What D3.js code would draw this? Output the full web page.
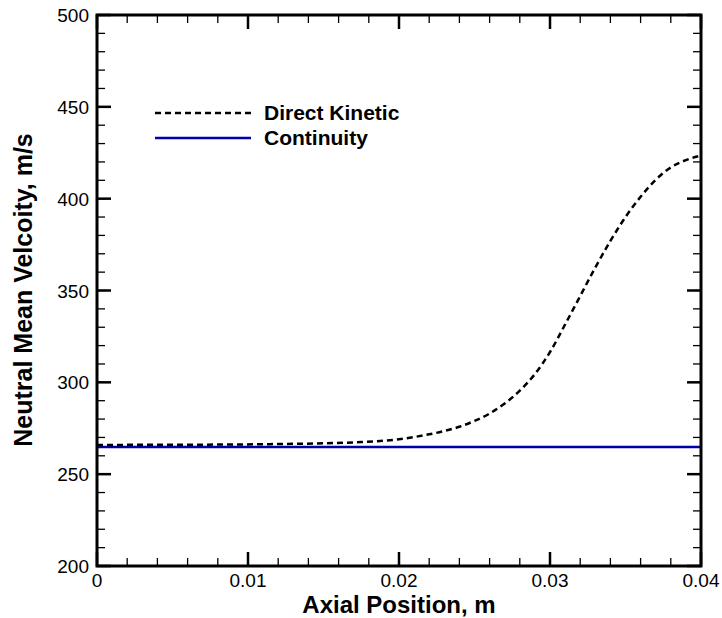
<!DOCTYPE html>
<html>
<head>
<meta charset="utf-8" />
<title>Neutral Mean Velocity</title>
<style>
  body { margin: 0; background: #fff; }
  text { font-family: Arial, "Liberation Sans", sans-serif; }
</style>
</head>
<body>
<svg id="chart" width="722" height="618"></svg>
<script src="https://d3js.org/d3.v7.min.js"></script>
<script>

// axial position (m) and velocity (m/s)
var kineticX = [0, 0.004, 0.008, 0.012, 0.015, 0.0175, 0.020, 0.021, 0.022, 0.023, 0.024, 0.025, 0.026, 0.027, 0.028, 0.029, 0.030, 0.031, 0.032, 0.033, 0.034, 0.035, 0.036, 0.037, 0.038, 0.039, 0.040];
var kineticY = [265.9, 266.0, 266.1, 266.4, 266.8, 267.5, 269.0, 270.2, 271.7, 273.5, 275.8, 279.0, 283.0, 288.5, 295.5, 304.5, 316.5, 331.5, 347.0, 362.5, 377.0, 390.0, 401.0, 410.3, 417.0, 421.0, 423.5];
var continuityX = [0, 0.04];
var continuityY = [264.8, 264.8];

var xTicks = [0, 0.01, 0.02, 0.03, 0.04];
var xTickLabels = ["0", "0.01", "0.02", "0.03", "0.04"];
var yTicks = [200, 250, 300, 350, 400, 450, 500];
var legendNames = ["Direct Kinetic", "Continuity"];

var svg = d3.select("#chart");
var pLeft = 97, pRight = 701, pTop = 15, pBottom = 566;

var x = d3.scaleLinear().domain([0, 0.04]).range([pLeft, pRight]);
var y = d3.scaleLinear().domain([200, 500]).range([pBottom, pTop]);

var xMinor = d3.range(0, 0.0401, 0.002);
var yMinor = d3.range(200, 501, 10);

var g = svg.append("g");

// minor ticks on all sides
xMinor.forEach(function(v){
  g.append("line").attr("x1", x(v)).attr("x2", x(v)).attr("y1", pBottom).attr("y2", pBottom - 8)
    .attr("stroke", "#000").attr("stroke-width", 1.3);
  g.append("line").attr("x1", x(v)).attr("x2", x(v)).attr("y1", pTop).attr("y2", pTop + 8)
    .attr("stroke", "#000").attr("stroke-width", 1.3);
});
yMinor.forEach(function(v){
  g.append("line").attr("x1", pLeft).attr("x2", pLeft + 8).attr("y1", y(v)).attr("y2", y(v))
    .attr("stroke", "#000").attr("stroke-width", 1.3);
  g.append("line").attr("x1", pRight).attr("x2", pRight - 8).attr("y1", y(v)).attr("y2", y(v))
    .attr("stroke", "#000").attr("stroke-width", 1.3);
});
// major ticks
xTicks.forEach(function(v){
  g.append("line").attr("x1", x(v)).attr("x2", x(v)).attr("y1", pBottom).attr("y2", pBottom - 14)
    .attr("stroke", "#000").attr("stroke-width", 2.5);
  g.append("line").attr("x1", x(v)).attr("x2", x(v)).attr("y1", pTop).attr("y2", pTop + 14)
    .attr("stroke", "#000").attr("stroke-width", 2.5);
});
yTicks.forEach(function(v){
  g.append("line").attr("x1", pLeft).attr("x2", pLeft + 14).attr("y1", y(v)).attr("y2", y(v))
    .attr("stroke", "#000").attr("stroke-width", 2.5);
  g.append("line").attr("x1", pRight).attr("x2", pRight - 14).attr("y1", y(v)).attr("y2", y(v))
    .attr("stroke", "#000").attr("stroke-width", 2.5);
});

// tick labels
xTicks.forEach(function(v, i){
  g.append("text").attr("x", x(v)).attr("y", 587).attr("text-anchor", "middle")
    .attr("font-size", 19).text(xTickLabels[i]);
});
yTicks.forEach(function(v){
  g.append("text").attr("x", 89).attr("y", y(v) + 7).attr("text-anchor", "end")
    .attr("font-size", 19).text(v);
});

// series
var line = d3.line()
  .x(function(d){ return x(d[0]); })
  .y(function(d){ return y(d[1]); })
  .curve(d3.curveMonotoneX);

svg.append("path")
  .datum(continuityX.map(function(v, i){ return [v, continuityY[i]]; }))
  .attr("d", line).attr("fill", "none")
  .attr("stroke", "#0000a8").attr("stroke-width", 2.5);

svg.append("path")
  .datum(kineticX.map(function(v, i){ return [v, kineticY[i]]; }))
  .attr("d", line).attr("fill", "none")
  .attr("stroke", "#000").attr("stroke-width", 2.5)
  .attr("stroke-dasharray", "6,4");

// frame
svg.append("rect").attr("x", pLeft).attr("y", pTop)
  .attr("width", pRight - pLeft).attr("height", pBottom - pTop)
  .attr("fill", "none").attr("stroke", "#000").attr("stroke-width", 3);

// legend
var legendY = [113, 138];
svg.append("line").attr("x1", 155).attr("x2", 251).attr("y1", legendY[0]).attr("y2", legendY[0])
  .attr("stroke", "#000").attr("stroke-width", 2.5).attr("stroke-dasharray", "6,4");
svg.append("line").attr("x1", 155).attr("x2", 251).attr("y1", legendY[1]).attr("y2", legendY[1])
  .attr("stroke", "#0000a8").attr("stroke-width", 2.5);
legendNames.forEach(function(n, i){
  svg.append("text").attr("x", 264).attr("y", legendY[i] + 7)
    .attr("font-size", 21).attr("font-weight", "bold").text(n);
});

// axis titles
svg.append("text").attr("x", (pLeft + pRight) / 2).attr("y", 613).attr("text-anchor", "middle")
  .attr("font-size", 24).attr("font-weight", "bold").text("Axial Position, m");
svg.append("text").attr("transform", "translate(32,290) rotate(-90)")
  .attr("text-anchor", "middle")
  .attr("font-size", 25).attr("font-weight", "bold").text("Neutral Mean Velcoity, m/s");

</script>
</body>
</html>
